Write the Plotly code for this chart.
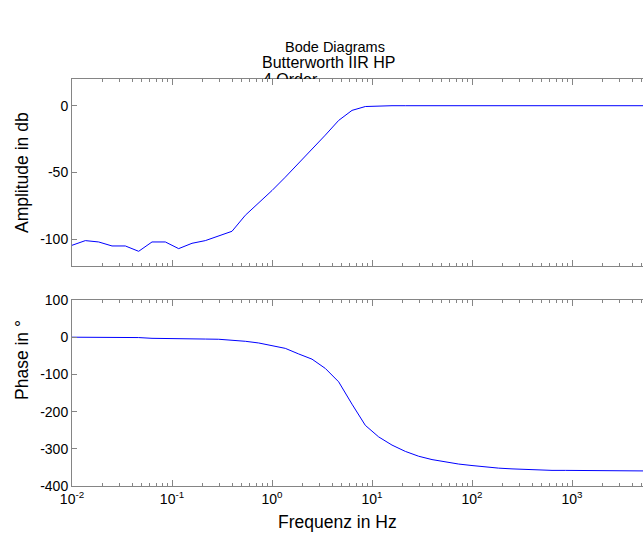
import plotly.graph_objects as go

# ---------------- data ----------------
freq_hz = [0.01, 0.01359, 0.01848, 0.02512, 0.03415, 0.04642, 0.06310, 0.08577,
           0.1166, 0.1585, 0.2154, 0.2929, 0.3981, 0.5412, 0.7356, 1.0,
           1.359, 1.848, 2.512, 3.415, 4.642, 6.310, 8.577, 11.66,
           15.85, 21.54, 29.29, 39.81, 54.12, 73.56, 100.0, 135.9,
           184.8, 251.2, 341.5, 464.2, 631.0, 857.7, 1166, 1585,
           2154, 2929, 3981, 5412, 7356, 10000]

amplitude_db = [-104.5, -101, -102, -105, -105, -109, -102, -102,
                -107, -103, -101, -97.5, -94, -82, -73, -63.5,
                -53.5, -43, -33, -22, -11, -3.5, -0.6, -0.07,
                0, 0, 0, 0, 0, 0, 0, 0,
                0, 0, 0, 0, 0, 0, 0, 0,
                0, 0, 0, 0, 0, 0]

phase_deg = [0, 0, 0, -0.5, -0.5, -1, -3, -3,
             -3, -3.5, -5, -5.5, -8, -11, -15.5, -22,
             -30, -45, -59, -84, -120, -180, -237, -268,
             -290, -307, -320, -329, -336, -341, -345, -349,
             -352, -354, -356, -357, -358, -358, -358, -359,
             -359, -359, -359, -360, -360, -360]

x_tickvals = [0.01, 0.1, 1, 10, 100, 1000]
x_ticktext = ["10<sup>-2</sup>", "10<sup>-1</sup>", "10<sup>0</sup>",
              "10<sup>1</sup>", "10<sup>2</sup>", "10<sup>3</sup>"]
x_minor = [m * d for d in [0.01, 0.1, 1, 10, 100, 1000] for m in range(2, 10)]

amp_tickvals = [-100, -50, 0]
amp_ticktext = ["-100", "-50", "0"]
ph_tickvals = [-400, -300, -200, -100, 0, 100]
ph_ticktext = ["-400", "-300", "-200", "-100", "0", "100"]

title_main = "Bode Diagrams"
subtitle_1 = "Butterworth IIR HP"
subtitle_2 = "4.Order"

# ---------------- layout geometry (pixels) ----------------
W, H = 643, 536
ML, MR, MT, MB = 72, 0, 20, 50
PW, PH = W - ML - MR, H - MT - MB
BOTTOM = H - MB  # px of paper y=0


def py(p):
    return (BOTTOM - p) / PH


def px(p):
    return (p - ML) / PW


FONT = "Liberation Sans, Arial, sans-serif"
AXC = "#858585"

fig = go.Figure()
fig.add_trace(go.Scatter(x=freq_hz, y=amplitude_db, mode="lines",
                         line=dict(color="#0000ff", width=1),
                         xaxis="x", yaxis="y", showlegend=False, hoverinfo="skip"))
fig.add_trace(go.Scatter(x=freq_hz, y=phase_deg, mode="lines",
                         line=dict(color="#0000ff", width=1),
                         xaxis="x2", yaxis="y2", showlegend=False, hoverinfo="skip"))
# second subtitle line, clipped by the top axes (hidden helper subplot)
fig.add_trace(go.Scatter(x=[px(263)], y=[-0.03], mode="text", text=[subtitle_2],
                         textposition="middle right", cliponaxis=True,
                         textfont=dict(family=FONT, size=16, color="black"),
                         xaxis="x3", yaxis="y3", showlegend=False, hoverinfo="skip"))

xcommon = dict(type="log", range=[-2, -2 + PW / 100.0], showgrid=False, zeroline=False,
               showline=True, linecolor=AXC, linewidth=1, mirror="ticks",
               ticks="inside", ticklen=6, tickcolor=AXC, tickwidth=1,
               tickmode="array", tickvals=x_tickvals, ticktext=x_ticktext,
               minor=dict(ticks="inside", ticklen=3, tickcolor=AXC, tickvals=x_minor,
                          showgrid=False),
               tickfont=dict(family=FONT, size=14, color="black"))
ycommon = dict(showgrid=False, zeroline=False, showline=True, linecolor=AXC, linewidth=1,
               mirror=False, ticks="inside", ticklen=5, tickcolor=AXC,
               tickfont=dict(family=FONT, size=14, color="black"), tickmode="array")

fig.update_layout(
    width=W, height=H,
    margin=dict(l=ML, r=MR, t=MT, b=MB, pad=0),
    paper_bgcolor="white", plot_bgcolor="white",
    font=dict(family=FONT, color="black"),
    xaxis=dict(xcommon, anchor="y", showticklabels=False),
    yaxis=dict(ycommon, domain=[py(266), py(79)], range=[-120, 20],
               tickvals=amp_tickvals, ticktext=amp_ticktext, anchor="x"),
    xaxis2=dict(xcommon, anchor="y2", showticklabels=True),
    yaxis2=dict(ycommon, domain=[0, py(300)], range=[-400, 100],
                tickvals=ph_tickvals, ticktext=ph_ticktext, anchor="x2"),
    xaxis3=dict(domain=[0, 1], range=[0, 1], visible=False, anchor="y3"),
    yaxis3=dict(domain=[py(79), 1], range=[0, 1], visible=False, anchor="x3"),
    annotations=[
        dict(text=title_main, x=px(335), y=py(47), xref="paper", yref="paper",
             showarrow=False, font=dict(family=FONT, size=14.5), xanchor="center", yanchor="middle"),
        dict(text=subtitle_1, x=px(328), y=py(62), xref="paper", yref="paper",
             showarrow=False, font=dict(family=FONT, size=16), xanchor="center", yanchor="middle"),
        dict(text="Amplitude in db", x=px(22), y=py(173), xref="paper", yref="paper",
             showarrow=False, font=dict(family=FONT, size=17.5), textangle=-90,
             xanchor="center", yanchor="middle"),
        dict(text="Phase in °", x=px(22), y=py(360), xref="paper", yref="paper",
             showarrow=False, font=dict(family=FONT, size=17.5), textangle=-90,
             xanchor="center", yanchor="middle"),
        dict(text="Frequenz in Hz", x=px(337), y=py(522), xref="paper", yref="paper",
             showarrow=False, font=dict(family=FONT, size=17.5), xanchor="center", yanchor="middle"),
    ],
)

fig.write_html("out.html")
